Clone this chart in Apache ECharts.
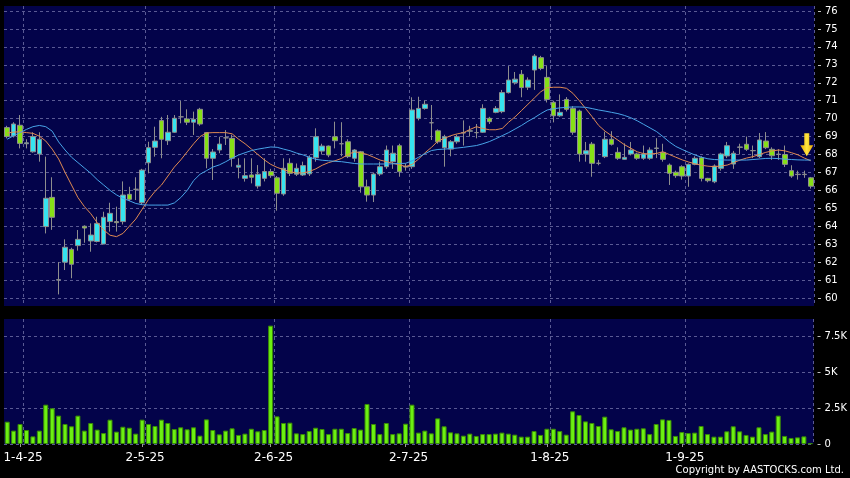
<!DOCTYPE html>
<html><head><meta charset="utf-8">
<script src="https://cdn.jsdelivr.net/npm/echarts/dist/echarts.min.js"></script>
<style>html,body{margin:0;padding:0;background:#000;}#c{width:850px;height:478px;}</style>
</head><body><div id="c"></div>
<script>
const dates = [
 '28-3-25','31-3-25',
 '1-4-25','2-4-25','3-4-25','7-4-25','8-4-25','9-4-25','10-4-25','11-4-25','14-4-25','15-4-25','16-4-25','17-4-25','22-4-25','23-4-25','24-4-25','25-4-25','28-4-25','29-4-25','30-4-25',
 '2-5-25','6-5-25','7-5-25','8-5-25','9-5-25','12-5-25','13-5-25','14-5-25','15-5-25','16-5-25','19-5-25','20-5-25','21-5-25','22-5-25','23-5-25','26-5-25','27-5-25','28-5-25','29-5-25','30-5-25',
 '2-6-25','3-6-25','4-6-25','5-6-25','6-6-25','9-6-25','10-6-25','11-6-25','12-6-25','13-6-25','16-6-25','17-6-25','18-6-25','19-6-25','20-6-25','23-6-25','24-6-25','25-6-25','26-6-25','27-6-25','30-6-25',
 '2-7-25','3-7-25','4-7-25','7-7-25','8-7-25','9-7-25','10-7-25','11-7-25','14-7-25','15-7-25','16-7-25','17-7-25','18-7-25','21-7-25','22-7-25','23-7-25','24-7-25','25-7-25','28-7-25','29-7-25','30-7-25','31-7-25',
 '1-8-25','4-8-25','5-8-25','6-8-25','7-8-25','8-8-25','11-8-25','12-8-25','13-8-25','14-8-25','15-8-25','18-8-25','19-8-25','20-8-25','21-8-25','22-8-25','25-8-25','26-8-25','27-8-25','28-8-25','29-8-25',
 '1-9-25','2-9-25','3-9-25','4-9-25','5-9-25','8-9-25','9-9-25','10-9-25','11-9-25','12-9-25','15-9-25','16-9-25','17-9-25','18-9-25','19-9-25','22-9-25','23-9-25','24-9-25','25-9-25','26-9-25','29-9-25'
];
const opens = [69.50,69.03,69.63,68.60,68.15,68.03,63.98,65.61,61.00,62.00,
 62.71,62.92,64.00,63.18,63.15,63.01,64.26,64.26,64.26,65.78,
 66.06,65.31,67.54,68.40,69.89,68.77,69.24,70.10,69.98,69.80,
 70.52,69.22,67.79,68.25,68.93,68.90,67.29,66.67,66.86,66.24,
 66.67,67.05,66.70,65.80,67.51,66.90,66.86,66.92,67.82,68.19,
 68.47,68.99,68.60,68.71,67.79,68.15,66.20,65.74,66.91,67.32,
 67.60,68.49,67.30,67.32,70.02,70.57,69.77,69.32,68.38,68.30,
 68.71,69.20,69.30,69.22,69.24,70.02,70.35,70.39,71.45,72.00,
 72.47,71.75,72.71,73.40,72.30,70.91,70.16,71.07,70.57,70.42,
 68.03,68.58,67.51,67.88,68.85,68.12,67.73,68.03,68.03,67.79,
 67.79,68.34,68.12,67.41,67.01,67.32,66.80,67.45,67.82,66.67,
 66.48,67.23,67.92,67.47,68.40,68.57,68.21,67.88,68.75,68.29,
 68.00,68.00,67.10,66.88,66.88,66.70];
const closes = [69.00,69.70,68.62,68.65,69.00,68.85,65.56,64.50,61.02,62.83,
 61.88,63.27,63.90,63.51,64.16,64.50,64.72,64.20,65.74,65.50,
 66.06,67.13,68.38,68.75,68.85,69.24,70.02,70.10,69.80,69.96,
 69.70,67.79,68.14,68.58,68.93,67.79,67.40,66.82,66.73,66.90,
 67.05,66.82,65.84,67.23,66.95,67.23,67.38,67.84,68.99,68.47,
 67.97,68.77,68.60,67.88,68.25,66.20,65.74,66.91,67.32,68.25,
 68.07,67.04,67.34,70.48,70.57,70.80,69.77,68.71,68.99,68.71,
 68.99,69.22,69.32,69.22,70.57,69.83,70.57,71.45,72.15,72.20,
 71.73,72.15,73.49,72.80,71.07,70.16,70.35,70.52,69.24,68.03,
 68.21,67.51,67.51,68.85,68.57,67.79,67.84,68.25,67.79,68.03,
 68.25,68.36,67.73,66.95,66.82,66.80,67.45,67.79,66.67,66.54,
 67.36,68.03,68.49,68.07,68.42,68.29,68.22,68.81,68.38,67.93,
 68.02,67.45,66.80,66.90,66.90,66.23];
const lows = [68.90,68.95,68.34,68.34,68.10,67.60,63.60,63.80,60.20,61.56,
 61.10,62.64,63.08,62.58,63.10,63.00,63.70,63.70,64.10,65.40,
 65.46,65.20,66.95,67.88,67.79,68.53,69.20,69.74,69.64,69.09,
 69.60,67.23,66.58,68.07,68.53,67.32,66.67,66.49,66.39,66.10,
 66.50,66.70,64.87,65.70,66.80,66.80,66.80,66.80,67.60,68.00,
 67.85,68.34,67.90,67.80,67.60,65.87,65.37,65.35,66.80,67.20,
 67.20,66.76,67.10,67.20,69.90,70.50,68.81,68.60,67.32,67.90,
 68.60,68.50,69.00,68.90,69.20,69.70,70.30,70.30,71.40,71.90,
 71.19,71.60,71.60,72.70,70.90,69.79,70.10,70.40,69.10,67.60,
 67.60,66.76,67.40,67.80,68.50,67.70,67.70,67.95,67.70,67.70,
 67.70,67.80,67.60,66.30,66.70,66.60,66.20,67.40,66.50,66.45,
 66.40,67.10,67.80,67.20,68.00,68.20,67.80,67.80,68.30,67.70,
 67.70,67.30,66.70,66.60,66.70,66.10];
const highs = [69.60,69.80,70.20,68.85,69.24,69.24,67.88,66.73,62.00,63.27,
 62.80,63.79,64.05,64.16,64.53,64.81,65.31,65.09,66.50,66.20,
 66.73,67.20,68.71,69.55,70.10,70.20,70.20,70.98,70.52,70.39,
 70.60,69.25,68.30,68.99,69.36,69.10,67.79,67.79,67.79,67.41,
 67.79,67.20,66.80,67.79,67.79,67.50,67.60,67.95,69.46,68.60,
 68.50,69.83,69.80,68.85,68.30,68.20,66.60,67.00,67.60,68.50,
 68.50,68.60,67.50,71.19,71.22,71.00,70.76,69.40,69.10,68.80,
 69.10,69.90,69.60,69.70,70.80,70.10,70.70,71.60,72.93,72.60,
 72.71,72.30,73.60,73.50,72.93,71.00,71.35,71.20,70.70,70.50,
 68.70,68.70,67.70,69.27,69.30,68.40,68.62,68.70,68.10,68.50,
 68.40,68.91,68.60,67.50,67.10,67.40,67.50,67.90,67.90,66.70,
 67.45,68.10,68.70,68.20,68.60,69.00,68.50,69.20,69.25,68.40,
 68.30,68.50,67.40,67.10,67.10,66.75];
const volumesK = [1.55,0.93,1.39,0.97,0.53,0.93,2.73,2.48,1.97,1.39,
 1.23,1.97,0.93,1.46,1.00,0.76,1.69,0.86,1.20,1.13,
 0.72,1.69,1.39,1.25,1.69,1.46,1.04,1.16,1.02,1.16,
 0.58,1.71,0.97,0.67,0.93,1.09,0.63,0.72,1.06,0.88,
 0.97,8.22,1.92,1.46,1.48,0.74,0.69,0.90,1.13,1.04,
 0.69,1.06,1.06,0.76,1.11,1.00,2.78,1.39,0.69,1.46,
 0.69,0.74,1.41,2.73,0.79,0.93,0.74,1.78,1.23,0.81,
 0.74,0.58,0.72,0.56,0.69,0.69,0.72,0.79,0.72,0.65,
 0.51,0.51,0.90,0.63,1.06,1.06,0.90,0.65,2.27,2.01,
 1.57,1.46,1.25,1.90,1.02,0.90,1.16,1.00,1.06,1.09,
 0.69,1.39,1.71,1.67,0.56,0.83,0.76,0.79,1.25,0.69,
 0.51,0.51,0.88,1.23,0.88,0.63,0.51,1.16,0.69,0.86,
 1.97,0.56,0.42,0.46,0.53,0.05];
const maShort = [69.20,69.25,69.27,69.22,69.18,69.02,68.75,68.30,67.75,67.00,
 66.30,65.60,65.10,64.70,64.20,63.80,63.50,63.42,63.60,64.00,
 64.40,64.95,65.50,65.95,66.30,66.80,67.30,67.70,68.15,68.60,
 69.00,69.20,69.22,69.22,69.22,69.15,68.85,68.60,68.30,68.00,
 67.70,67.45,67.28,67.15,67.04,66.97,66.97,67.05,67.20,67.40,
 67.55,67.65,67.78,68.00,68.15,68.10,68.00,67.85,67.69,67.60,
 67.51,67.42,67.33,67.45,67.75,68.10,68.40,68.75,68.90,69.05,
 69.15,69.22,69.40,69.55,69.45,69.38,69.38,69.45,69.80,70.10,
 70.45,70.80,71.15,71.50,71.72,71.75,71.75,71.69,71.41,71.00,
 70.55,70.10,69.62,69.30,69.05,68.80,68.55,68.35,68.15,68.05,
 68.03,68.06,68.15,68.00,67.85,67.70,67.58,67.48,67.40,67.35,
 67.32,67.36,67.41,67.55,67.69,67.80,67.88,68.00,68.12,68.20,
 68.25,68.20,68.10,67.98,67.80,67.65];
const maLong = [68.85,69.05,69.22,69.40,69.55,69.62,69.55,69.30,68.70,68.25,
 67.85,67.55,67.25,66.95,66.60,66.30,66.00,65.75,65.55,65.42,
 65.27,65.20,65.18,65.18,65.18,65.18,65.30,65.60,66.00,66.55,
 66.90,67.10,67.30,67.42,67.60,67.80,67.97,68.10,68.22,68.30,
 68.36,68.42,68.40,68.30,68.21,68.08,67.98,67.85,67.73,67.68,
 67.65,67.62,67.60,67.55,67.50,67.47,67.47,67.47,67.47,67.47,
 67.48,67.50,67.51,67.65,67.85,68.05,68.22,68.28,68.30,68.33,
 68.36,68.40,68.45,68.50,68.60,68.72,68.88,69.05,69.22,69.42,
 69.62,69.85,70.05,70.28,70.48,70.55,70.60,70.63,70.65,70.65,
 70.63,70.56,70.48,70.42,70.35,70.28,70.18,70.05,69.88,69.68,
 69.48,69.28,69.00,68.70,68.45,68.28,68.12,67.97,67.85,67.76,
 67.72,67.70,67.69,67.69,67.69,67.69,67.72,67.75,67.78,67.79,
 67.77,67.74,67.72,67.70,67.69,67.69];
const priceMin = 60, priceMax = 76, priceStep = 1;
const volTicks = [0, 2.5, 5, 7.5];
const volLabels = ['0', '2.5K', '5K', '7.5K'];
const copyrightText = 'Copyright by AASTOCKS.com Ltd.';

const NAVY = '#03034a';
const GRID = '#5a5a94';
const CYAN = '#36e4f0';
const GREEN = '#86e016';
const FONT = 'DejaVu Sans';

const N = dates.length;
const monthOf = d => d.split('-')[1];
const monthStart = dates.map((d, i) => i > 0 && monthOf(d) !== monthOf(dates[i - 1]));
const candleData = opens.map((o, i) => [o, closes[i], lows[i], highs[i]]);

const splitX = {
  show: true,
  interval: (idx) => idx > 0 && monthStart[idx - 1],
  lineStyle: { color: GRID, type: [3, 3], width: 1 }
};

const chart = echarts.init(document.getElementById('c'), null, { renderer: 'canvas' });
chart.setOption({
  backgroundColor: '#000',
  animation: false,
  textStyle: { fontFamily: FONT },
  graphic: [
    { type: 'text', right: 6, top: 465, silent: true,
      style: { text: copyrightText, fill: '#ffffff', font: '10px "DejaVu Sans"' } }
  ],
  grid: [
    { left: 4, right: 36, top: 11, height: 287 },
    { left: 4, right: 36, top: 319, height: 125, show: true, backgroundColor: NAVY, borderWidth: 0 },
    { left: 4, right: 36, top: 6, height: 300, show: true, backgroundColor: NAVY, borderWidth: 0, z: -1 }
  ],
  xAxis: [
    { type: 'category', gridIndex: 0, data: dates, boundaryGap: true,
      axisLine: { show: false }, axisTick: { show: false }, axisLabel: { show: false }, splitLine: { show: false } },
    { type: 'category', gridIndex: 1, data: dates, boundaryGap: true,
      axisLine: { show: false },
      axisTick: { show: true, alignWithLabel: true, interval: (i) => monthStart[i], length: 3, lineStyle: { color: '#9a9a9a' } },
      axisLabel: { show: true, interval: (i) => monthStart[i], margin: 8, color: '#fff',
        formatter: (v) => '{s|' + v + '}',
        rich: { s: { fontFamily: FONT, fontSize: 12, color: '#fff', padding: [0, 0, 0, 6] } } },
      splitLine: splitX },
    { type: 'category', gridIndex: 2, data: dates, boundaryGap: true,
      axisLine: { show: false }, axisTick: { show: false }, axisLabel: { show: false }, splitLine: splitX, z: 0 }
  ],
  yAxis: [
    { type: 'value', gridIndex: 0, position: 'right', min: priceMin, max: priceMax, interval: priceStep, offset: 4,
      axisLine: { show: false },
      axisTick: { show: true, length: 3, lineStyle: { color: '#bdbdbd' } },
      axisLabel: { color: '#fff', fontFamily: FONT, fontSize: 10, margin: 7 },
      splitLine: { show: true, lineStyle: { color: GRID, type: [3, 3], width: 1 } } },
    { type: 'value', gridIndex: 1, position: 'right', min: 0, max: 8.68, offset: 4,
      axisLine: { show: false },
      axisTick: { show: true, length: 3, customValues: volTicks, lineStyle: { color: '#bdbdbd' } },
      axisLabel: { color: '#fff', fontFamily: FONT, fontSize: 10, margin: 7, customValues: volTicks,
        formatter: (v) => volLabels[volTicks.indexOf(v)] ?? '' },
      splitLine: { show: true, lineStyle: { color: GRID, type: [3, 3], width: 1 } } },
    { type: 'value', gridIndex: 2, show: false, min: 0, max: 1, splitLine: { show: false } }
  ],
  series: [
    { type: 'candlestick', name: 'Price', xAxisIndex: 0, yAxisIndex: 0, data: candleData, barWidth: 5,
      itemStyle: { color: CYAN, color0: GREEN, borderColor: '#8e8e8e', borderColor0: '#8e8e8e', borderWidth: 1 },
      markPoint: {
        silent: true,
        label: { show: false },
        data: [{
          coord: [N - 1, maShort[N - 1]],
          symbol: 'path://M4,0 L9,0 L9,12 L13,12 L6.5,23 L0,12 L4,12 Z',
          symbolSize: [13, 23], symbolOffset: [-4, -16],
          itemStyle: { color: new echarts.graphic.LinearGradient(0, 0, 1, 0, [
            { offset: 0, color: '#e8a400' }, { offset: 0.5, color: '#ffe640' }, { offset: 1, color: '#e8a400' }]) }
        }]
      } },
    { type: 'line', name: 'MA10', xAxisIndex: 0, yAxisIndex: 0, data: maShort, symbol: 'none',
      lineStyle: { color: '#e08a52', width: 1 } },
    { type: 'line', name: 'MA20', xAxisIndex: 0, yAxisIndex: 0, data: maLong, symbol: 'none',
      lineStyle: { color: '#48a4e8', width: 1 } },
    { type: 'bar', name: 'Volume', xAxisIndex: 1, yAxisIndex: 1, data: volumesK, barWidth: 5,
      itemStyle: { color: '#6cf012', borderColor: '#3a8a06', borderWidth: 1 } }
  ]
});
</script>
</body></html>
